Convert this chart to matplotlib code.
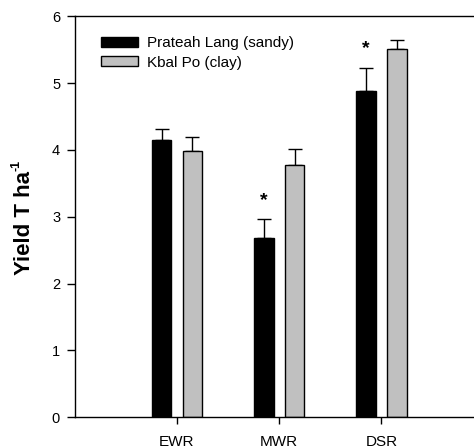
import matplotlib
matplotlib.use("Agg")
import matplotlib.pyplot as plt
import numpy as np

plt.rcParams['font.family'] = ['Liberation Sans', 'DejaVu Sans']

categories = ["EWR", "MWR", "DSR"]
series_names = ["Prateah Lang (sandy)", "Kbal Po (clay)"]
sandy = [4.15, 2.69, 4.88]
sandy_err = [0.17, 0.27, 0.35]
clay = [3.99, 3.77, 5.51]
clay_err = [0.20, 0.24, 0.13]
signif = [False, True, True]

fig = plt.figure(figsize=(4.74, 4.46), dpi=100)
ax = fig.add_axes([0.1576, 0.0643, 1.0205 - 0.1576, 0.9635 - 0.0643])

x = np.arange(1, len(categories) + 1)
w = 0.19
off = 0.15
ax.bar(x - off, sandy, w, color='black', edgecolor='black', linewidth=1.0,
       label=series_names[0], zorder=2)
ax.bar(x + off, clay, w, color='#c0c0c0', edgecolor='black', linewidth=1.0,
       label=series_names[1], zorder=2)
ax.errorbar(x - off, sandy, yerr=[np.zeros(3), sandy_err], fmt='none',
            ecolor='black', elinewidth=1.0, capsize=5, capthick=1.0, zorder=1)
ax.errorbar(x + off, clay, yerr=[np.zeros(3), clay_err], fmt='none',
            ecolor='black', elinewidth=1.0, capsize=5, capthick=1.0, zorder=1)

for xi, v, e, s in zip(x, sandy, sandy_err, signif):
    if s:
        ax.text(xi - off, v + e + 0.29, '*', ha='center', va='center',
                fontsize=14, fontweight='bold')

ax.set_xlim(0, 4)
ax.set_ylim(0, 6)
ax.set_xticks(x)
ax.set_xticklabels(categories)
ax.set_yticks(range(0, 7))
ax.tick_params(axis='y', direction='out', length=6, width=1, labelsize=10.5, pad=4.5)
ax.tick_params(axis='x', direction='out', length=5, width=1, labelsize=11, pad=8)
for sp in ax.spines.values():
    sp.set_linewidth(1.0)

# y-axis label with a small superscript built from two texts
ylab = fig.text(25 / 474, 1 - 275 / 446, 'Yield T ha', rotation=90,
                ha='center', va='bottom', fontsize=16, fontweight='bold')
fig.canvas.draw()
bb = ylab.get_window_extent()
fig.text((bb.x0 + 8) / fig.bbox.width, (bb.y1 + 0) / fig.bbox.height, '-1',
         rotation=90, ha='right', va='bottom', fontsize=9, fontweight='bold')

ax.legend(loc='upper left', bbox_to_anchor=(0.064, 0.95), frameon=False,
          fontsize=11, handlelength=2.4, handleheight=0.66, handletextpad=0.6,
          labelspacing=0.35, borderpad=0, borderaxespad=0)

fig.savefig('out.png', dpi=100)
